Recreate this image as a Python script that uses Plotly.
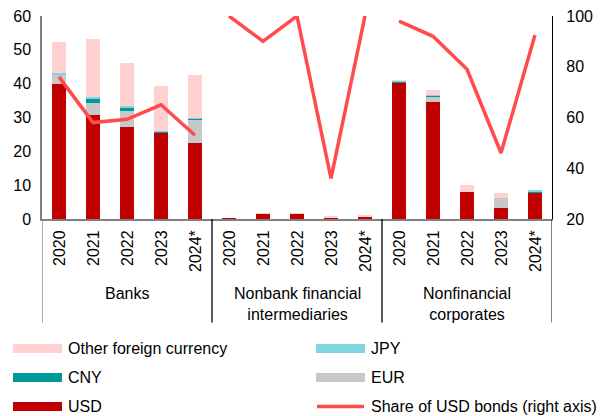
import plotly.graph_objects as go

groups = ["Banks", "Nonbank financial<br>intermediaries", "Nonfinancial<br>corporates"]
years = ["2020", "2021", "2022", "2023", "2024*"]

usd   = [40.0, 30.8, 27.2, 25.5, 22.5,   0.2, 1.5, 1.5, 0.3, 0.8,   40.4, 34.7, 7.9, 3.4, 7.7]
eur   = [2.7, 3.4, 4.8, 0.2, 7.0,        0.0, 0.0, 0.0, 0.1, 0.0,   0.0, 1.5, 0.0, 2.7, 0.0]
cny   = [0.1, 1.5, 1.1, 0.2, 0.2,        0.0, 0.0, 0.0, 0.0, 0.0,   0.3, 0.3, 0.0, 0.0, 0.5]
jpy   = [0.3, 0.3, 0.2, 0.2, 0.3,        0.0, 0.0, 0.0, 0.0, 0.0,   0.1, 0.1, 0.0, 0.0, 0.2]
other = [9.2, 17.3, 12.9, 13.3, 12.7,    0.0, 0.1, 0.1, 0.5, 0.1,   0.2, 1.4, 2.1, 1.6, 0.0]
share = [76, 58, 59.3, 65, 53,           100, 90, 100, 36, 100,      98, 92, 79, 46, 92.5]

C_USD, C_EUR, C_CNY, C_JPY, C_OTH, C_LINE = "#C00000", "#C8C8C8", "#009999", "#7FD6E0", "#FFD1D1", "#FF4B4B"

W, H = 603, 416
L, R, T, B = 42, 552, 16, 218.7
PW, PH = R - L, B - T

def px(x):
    return (x - L) / PW

def py(y):
    return (B - y) / PH

n = len(usd)
xs = list(range(n))

fig = go.Figure()
for name, vals, col in [("USD", usd, C_USD), ("EUR", eur, C_EUR), ("CNY", cny, C_CNY),
                        ("JPY", jpy, C_JPY), ("Other foreign currency", other, C_OTH)]:
    fig.add_trace(go.Bar(x=xs, y=vals, name=name, marker=dict(color=col, line=dict(width=0)),
                         width=0.4, showlegend=False))

lx, ly = [], []
for g in range(3):
    for k in range(5):
        lx.append(g * 5 + k)
        ly.append(share[g * 5 + k])
    if g < 2:
        lx.append(None)
        ly.append(None)
fig.add_trace(go.Scatter(x=lx, y=ly, yaxis="y2", mode="lines", connectgaps=False,
                         line=dict(color=C_LINE, width=3.5), name="Share of USD bonds (right axis)",
                         showlegend=False))

FONT = "Liberation Sans, Arial, sans-serif"
fig.update_layout(
    width=W, height=H, barmode="stack", bargap=0,
    margin=dict(l=L, r=W - R, t=T, b=H - B, autoexpand=False),
    paper_bgcolor="white", plot_bgcolor="white",
    font=dict(family=FONT, size=16, color="black"),
    xaxis=dict(range=[-0.5, n - 0.5], showticklabels=False, ticks="", showgrid=False,
               zeroline=False, showline=True, linecolor="#808080", linewidth=1.5, automargin=False),
    yaxis=dict(range=[0, 60], dtick=10, showgrid=False, zeroline=False, showline=True,
               linecolor="#808080", linewidth=1.5, ticks="", ticklabelstandoff=6, automargin=False),
    yaxis2=dict(range=[20, 100], dtick=20, overlaying="y", side="right", showgrid=False,
                zeroline=False, showline=True, linecolor="black", linewidth=1.2, ticks="",
                ticklabelstandoff=10, automargin=False),
    showlegend=False,
)

shapes = []
ann = []
# dividers
for i, xd in enumerate([-0.5, 4.5, 9.5, 14.5]):
    col = "#808080" if i == 0 else ("black" if i < 3 else "#404040")
    shapes.append(dict(type="line", xref="x", yref="paper", x0=xd, x1=xd, y0=0, y1=py(322),
                       line=dict(color=col, width=1.3)))
# year labels
for g in range(3):
    for k, yr in enumerate(years):
        ann.append(dict(x=g * 5 + k, y=0, xref="x", yref="paper", text=yr, textangle=-90,
                        showarrow=False, xanchor="center", yanchor="top", yshift=-9,
                        font=dict(size=16)))
    ann.append(dict(x=g * 5 + 2, y=0, xref="x", yref="paper", text=groups[g], showarrow=False,
                    xanchor="center", yanchor="top", yshift=-64, font=dict(size=16)))

# legend (manual)
leg = [("Other foreign currency", C_OTH, 13, 348, "bar"), ("JPY", C_JPY, 316, 348, "bar"),
       ("CNY", C_CNY, 13, 377, "bar"), ("EUR", C_EUR, 316, 377, "bar"),
       ("USD", C_USD, 13, 406, "bar"), ("Share of USD bonds (right axis)", C_LINE, 316, 406, "line")]
for name, col, x0, yc, kind in leg:
    if kind == "bar":
        shapes.append(dict(type="rect", xref="paper", yref="paper", x0=px(x0), x1=px(x0 + 49),
                           y0=py(yc + 4.5), y1=py(yc - 4.5), fillcolor=col, line=dict(width=0)))
    else:
        shapes.append(dict(type="line", xref="paper", yref="paper", x0=px(x0 + 1), x1=px(x0 + 48),
                           y0=py(yc), y1=py(yc), line=dict(color=col, width=3.5)))
    ann.append(dict(x=px(x0 + 53), y=py(yc), xref="paper", yref="paper", text=name,
                    showarrow=False, xanchor="left", yanchor="middle", font=dict(size=16)))

fig.update_layout(shapes=shapes, annotations=ann)
fig.write_html("out.html", config={"displayModeBar": False},
               post_script="document.body.style.margin='0';document.body.style.padding='0';")
